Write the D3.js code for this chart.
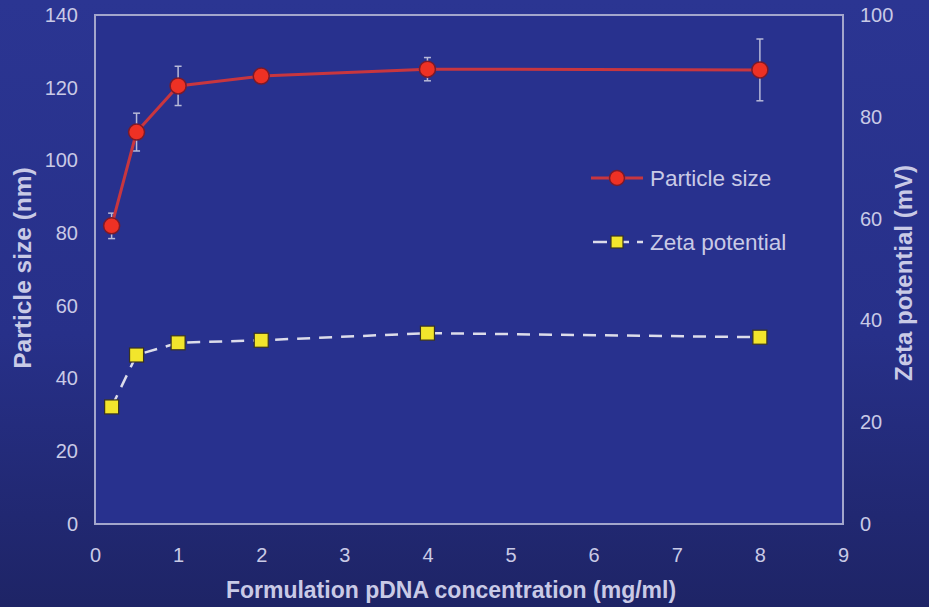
<!DOCTYPE html>
<html>
<head>
<meta charset="utf-8">
<script src="https://cdn.jsdelivr.net/npm/d3@7"></script>
<style>
  html, body { margin: 0; padding: 0; }
  body { width: 929px; height: 607px; overflow: hidden; font-family: "Liberation Sans", Arial, sans-serif; }
</style>
</head>
<body>
<div id="chart"></div>
<script>
// data
const conc = [0.2, 0.5, 1, 2, 4, 8];
const particleSize = [82, 107.8, 120.5, 123.2, 125.1, 124.9];
const particleErr = [3.5, 5.2, 5.4, 1.2, 3.2, 8.5];
const zetaPotential = [23, 33.2, 35.6, 36.1, 37.5, 36.7];
const xTicks = [0, 1, 2, 3, 4, 5, 6, 7, 8, 9];
const leftTicks = [0, 20, 40, 60, 80, 100, 120, 140];
const rightTicks = [0, 20, 40, 60, 80, 100];

const width = 929, height = 607;
const margin = { top: 15, right: 86, bottom: 83, left: 95 };
const innerW = width - margin.left - margin.right;
const innerH = height - margin.top - margin.bottom;

const textCol = "#c9cae6";
const frameCol = "#a3a6cc";

const svg = d3.select("#chart").append("svg")
  .attr("width", width)
  .attr("height", height);

// background gradient
const defs = svg.append("defs");
const grad = defs.append("linearGradient")
  .attr("id", "bg").attr("x1", 0).attr("y1", 0).attr("x2", 0).attr("y2", 1);
grad.append("stop").attr("offset", "0%").attr("stop-color", "#2b3592");
grad.append("stop").attr("offset", "55%").attr("stop-color", "#273089");
grad.append("stop").attr("offset", "100%").attr("stop-color", "#1e2466");
svg.append("rect").attr("width", width).attr("height", height).attr("fill", "url(#bg)");

const g = svg.append("g").attr("transform", `translate(${margin.left},${margin.top})`);

const x = d3.scaleLinear().domain([0, 9]).range([0, innerW]);
const yL = d3.scaleLinear().domain([0, 140]).range([innerH, 0]);
const yR = d3.scaleLinear().domain([0, 100]).range([innerH, 0]);

// plot frame
g.append("rect")
  .attr("width", innerW).attr("height", innerH)
  .attr("fill", "#28318e")
  .attr("stroke", frameCol).attr("stroke-width", 2);

// axes
const xAxis = g.append("g")
  .attr("transform", `translate(0,${innerH})`)
  .call(d3.axisBottom(x).tickValues(xTicks).tickSize(0).tickPadding(24).tickFormat(d3.format("d")));
const leftAxis = g.append("g")
  .call(d3.axisLeft(yL).tickValues(leftTicks).tickSize(0).tickPadding(17));
const rightAxis = g.append("g")
  .attr("transform", `translate(${innerW},0)`)
  .call(d3.axisRight(yR).tickValues(rightTicks).tickSize(0).tickPadding(17));

[xAxis, leftAxis, rightAxis].forEach(a => {
  a.select(".domain").remove();
  a.selectAll("text")
    .attr("fill", textCol)
    .style("font-size", "20px")
    .style("font-family", "Liberation Sans, Arial, sans-serif");
});

// axis titles
svg.append("text")
  .attr("x", 451).attr("y", 598)
  .attr("text-anchor", "middle")
  .attr("fill", textCol)
  .style("font-size", "23px").style("font-weight", "bold")
  .text("Formulation pDNA concentration (mg/ml)");

svg.append("text")
  .attr("transform", "translate(31,268) rotate(-90)")
  .attr("text-anchor", "middle")
  .attr("fill", textCol)
  .style("font-size", "24.5px").style("font-weight", "bold")
  .text("Particle size (nm)");

svg.append("text")
  .attr("transform", "translate(912,273) rotate(-90)")
  .attr("text-anchor", "middle")
  .attr("fill", textCol)
  .style("font-size", "24px").style("font-weight", "bold")
  .text("Zeta potential (mV)");

// zeta potential: dashed line with squares
const zetaLine = d3.line().x((d, i) => x(conc[i])).y(d => yR(d));
g.append("path")
  .datum(zetaPotential)
  .attr("d", zetaLine)
  .attr("fill", "none")
  .attr("stroke", "#dcdcea")
  .attr("stroke-width", 2.5)
  .attr("stroke-dasharray", "13,9");

g.selectAll(".zeta")
  .data(zetaPotential)
  .enter().append("rect")
  .attr("class", "zeta")
  .attr("x", (d, i) => x(conc[i]) - 7)
  .attr("y", d => yR(d) - 7)
  .attr("width", 14).attr("height", 14)
  .attr("fill", "#f2e52c")
  .attr("stroke", "#3a3420").attr("stroke-width", 1.2);

// particle size: error bars, line and circles
const err = g.append("g");
particleSize.forEach((v, i) => {
  const cx = x(conc[i]);
  const y1 = yL(v - particleErr[i]), y2 = yL(v + particleErr[i]);
  err.append("line").attr("x1", cx).attr("x2", cx).attr("y1", y1).attr("y2", y2)
    .attr("stroke", "#b8bad8").attr("stroke-width", 1.5);
  [y1, y2].forEach(yy => err.append("line")
    .attr("x1", cx - 3.5).attr("x2", cx + 3.5).attr("y1", yy).attr("y2", yy)
    .attr("stroke", "#b8bad8").attr("stroke-width", 1.5));
});

const sizeLine = d3.line().x((d, i) => x(conc[i])).y(d => yL(d));
g.append("path")
  .datum(particleSize)
  .attr("d", sizeLine)
  .attr("fill", "none")
  .attr("stroke", "#c8363f")
  .attr("stroke-width", 3);

g.selectAll(".size")
  .data(particleSize)
  .enter().append("circle")
  .attr("class", "size")
  .attr("cx", (d, i) => x(conc[i]))
  .attr("cy", d => yL(d))
  .attr("r", 8)
  .attr("fill", "#ee3124")
  .attr("stroke", "#7a1a2a").attr("stroke-width", 1.5);

// legend
const legend = svg.append("g");
legend.append("line").attr("x1", 591).attr("x2", 643).attr("y1", 178).attr("y2", 178)
  .attr("stroke", "#c8363f").attr("stroke-width", 3);
legend.append("circle").attr("cx", 617).attr("cy", 178).attr("r", 7.5)
  .attr("fill", "#ee3124").attr("stroke", "#7a1a2a").attr("stroke-width", 1.5);
legend.append("text").attr("x", 650).attr("y", 186)
  .attr("fill", textCol).style("font-size", "22.5px").text("Particle size");

legend.append("line").attr("x1", 593).attr("x2", 643).attr("y1", 242).attr("y2", 242)
  .attr("stroke", "#dcdcea").attr("stroke-width", 2.5).attr("stroke-dasharray", "14,8");
legend.append("rect").attr("x", 611).attr("y", 236).attr("width", 12).attr("height", 12)
  .attr("fill", "#f2e52c").attr("stroke", "#3a3420").attr("stroke-width", 1.2);
legend.append("text").attr("x", 650).attr("y", 250)
  .attr("fill", textCol).style("font-size", "22.5px").text("Zeta potential");
</script>
</body>
</html>
